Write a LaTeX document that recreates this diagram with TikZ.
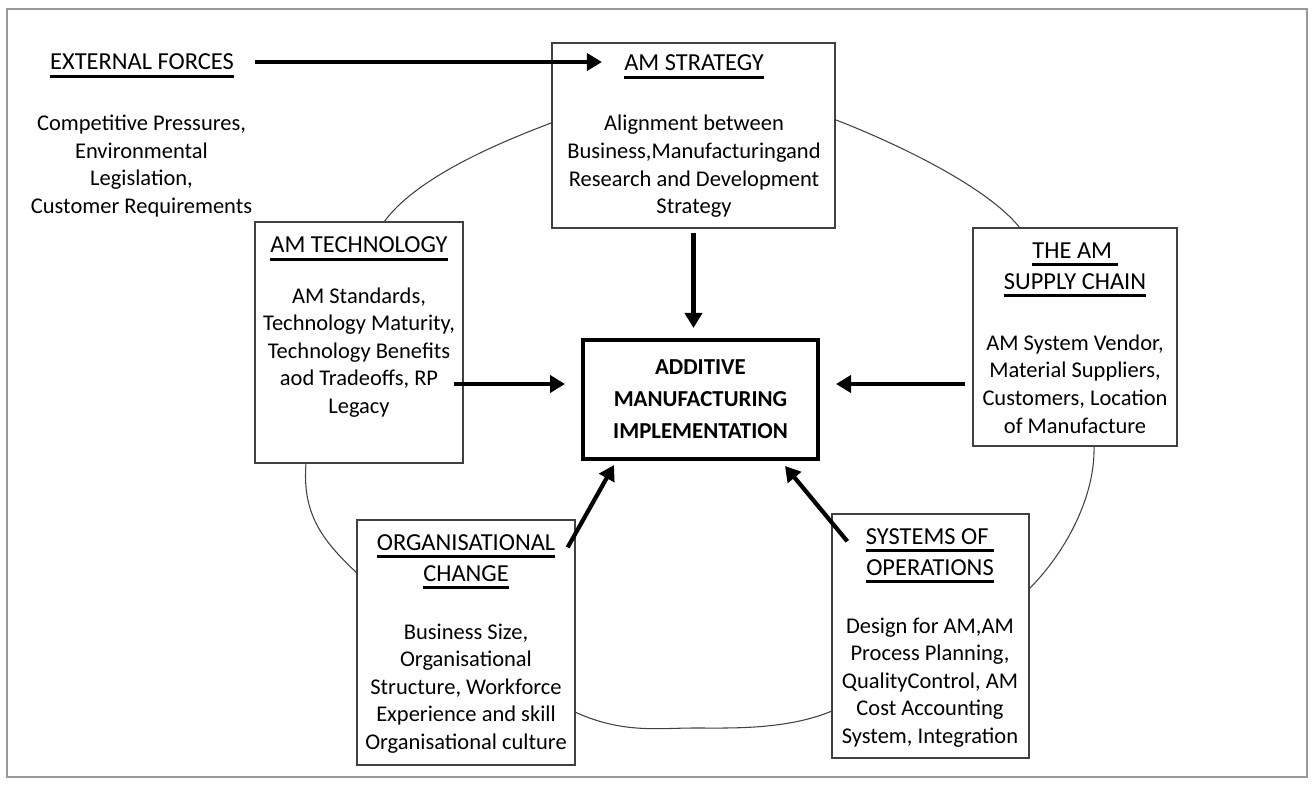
\documentclass[tikz,border=0pt]{standalone}
\usepackage{fontspec}
\setmainfont{Carlito}
\usetikzlibrary{arrows.meta}
\definecolor{boxgray}{HTML}{404040}
\newcommand{\hdr}[1]{\setbox0=\hbox{#1}\rlap{\smash{\rule[-4.6pt]{\wd0}{1.7pt}}}\box0}

\begin{document}
\begin{tikzpicture}[x=0.02cm, y=-0.02cm,
  box/.style={draw=boxgray, line width=0.8pt, fill=white, inner sep=0pt},
  hd/.style={font=\fontsize{13.9}{17.6}\selectfont, align=center, inner sep=0pt},
  txt/.style={font=\fontsize{12.8}{15.7}\selectfont, align=center, inner sep=0pt},
  arr/.style={line width=2.4pt, -{Triangle[length=3mm, width=3.4mm]}}]
  \useasboundingbox (0,0) rectangle (1314,784);
  \draw[gray!80, line width=0.8pt] (7,9) rectangle (1307,777);
  \draw[boxgray, line width=0.6pt] plot[smooth cycle] coordinates {(694,103) (836,120) (1020,228) (1094,446) (1030,588) (832,711) (693,728) (575,712) (357,573) (306,463) (384,222) (551,123)};

  \node[box, minimum width=56.6mm, minimum height=37mm] (strat) at (693.5,135.5) {};
  \node[box, minimum width=41.6mm, minimum height=48.2mm] (tech) at (359,342.5) {};
  \node[box, minimum width=40.8mm, minimum height=43.6mm] (supply) at (1075,337) {};
  \node[box, minimum width=43.6mm, minimum height=49mm] (org) at (466,642.5) {};
  \node[box, minimum width=39.4mm, minimum height=48.8mm] (ops) at (930.5,636) {};
  \node[box, draw=black, line width=2.3pt, minimum width=47mm, minimum height=23.8mm,
    font=\bfseries\fontsize{13}{18.2}\selectfont, align=center] (main) at (700.5,399.5)
    {ADDITIVE\\MANUFACTURING\\IMPLEMENTATION};

  \node[hd] (ext-t) at (142,62) {\hdr{EXTERNAL FORCES}};
  \node[txt] (ext-b) at (141.5,166) {Competitive Pressures,\\Environmental\\Legislation,\\Customer Requirements};
  \node[hd] (strat-t) at (694,63) {\hdr{AM STRATEGY}};
  \node[txt] (strat-b) at (694,166.5) {Alignment between\\Business,Manufacturingand\\Research and Development\\Strategy};
  \node[hd] (tech-t) at (359,245) {\hdr{AM TECHNOLOGY}};
  \node[txt] (tech-b) at (359,352.5) {AM Standards,\\Technology Maturity,\\Technology Benefits\\aod Tradeoffs, RP\\Legacy};
  \node[hd] (supply-t) at (1075,266) {\hdr{THE AM\ }\\\hdr{SUPPLY CHAIN}};
  \node[txt] (supply-b) at (1075,384) {AM System Vendor,\\Material Suppliers,\\Customers, Location\\of Manufacture};
  \node[hd] (org-t) at (466,558) {\hdr{ORGANISATIONAL}\\\hdr{CHANGE}};
  \node[txt] (org-b) at (466,688.5) {Business Size,\\Organisational\\Structure, Workforce\\Experience and skill\\Organisational culture};
  \node[hd] (ops-t) at (930,552) {\hdr{SYSTEMS OF\ }\\\hdr{OPERATIONS}};
  \node[txt] (ops-b) at (930,682.5) {Design for AM,AM\\Process Planning,\\QualityControl, AM\\Cost Accounting\\System, Integration};

  \coordinate (lvl) at (0,384);
  \draw[arr, shorten <=4.2mm, shorten >=4.4mm] (ext-t.east) -- (ext-t.east -| strat-t.west);
  \draw[arr, shorten <=0.8mm, shorten >=2mm] (strat.south) -- (strat.south |- main.north);
  \draw[arr, shorten <=-2mm, shorten >=3.2mm] (tech.east |- lvl) -- (main.west |- lvl);
  \draw[arr, shorten <=1.4mm, shorten >=3.2mm] (supply.west |- lvl) -- (main.east |- lvl);
  \draw[arr] ([xshift=-1.6mm, yshift=-5.6mm]org.north east) -- ([xshift=6.6mm, yshift=-0.8mm]main.south west);
  \draw[arr] ([xshift=3.2mm, yshift=-5.6mm]ops.north west) -- ([xshift=-7mm, yshift=-1mm]main.south east);
\end{tikzpicture}
\end{document}
